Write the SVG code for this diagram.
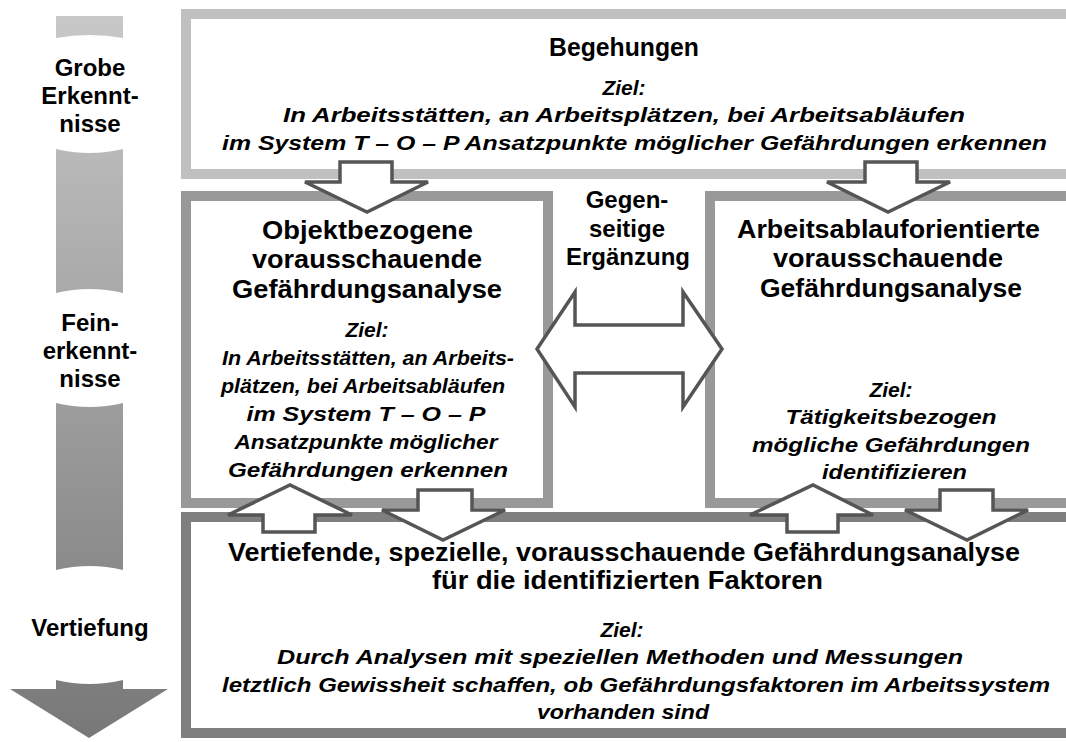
<svg xmlns="http://www.w3.org/2000/svg" width="1066" height="742" viewBox="0 0 1066 742">
  <defs>
    <linearGradient id="progress" gradientUnits="userSpaceOnUse" x1="0" y1="16" x2="0" y2="738">
      <stop offset="0" stop-color="#c8c8c8"/>
      <stop offset="1" stop-color="#787878"/>
    </linearGradient>
    <style>
      .frame { fill: #ffffff; stroke-width: 10; }
      .t { font-family: "Liberation Sans", Arial, sans-serif; font-weight: bold; fill: #000; text-anchor: middle; }
      .h { font-size: 25px; }
      .i { font-size: 21px; font-style: italic; }
      .side { font-size: 24px; }
      .block { fill: #ffffff; stroke: #555555; stroke-width: 3.5; stroke-linejoin: miter; }
    </style>
  </defs>

  <rect width="1066" height="742" fill="#ffffff"/>

  <!-- progression bar on the left -->
  <g id="progress-bar" fill="url(#progress)">
    <path d="M56 16 H123 V38 Q89.5 32 56 38 Z"/>
    <path d="M56 149 Q89.5 157 123 149 V293 Q89.5 285 56 293 Z"/>
    <path d="M56 403 Q89.5 411 123 403 V570 Q89.5 562 56 570 Z"/>
    <path d="M56 680 Q89.5 688 123 680 V689 H168 L89 738 L10 689 H56 Z"/>
  </g>
  <g id="progress-labels" class="t side">
    <text x="90" y="76">Grobe</text>
    <text x="90" y="104">Erkennt-</text>
    <text x="90" y="132">nisse</text>
    <text x="90" y="331">Fein-</text>
    <text x="90" y="359">erkennt-</text>
    <text x="90" y="387">nisse</text>
    <text x="90" y="636">Vertiefung</text>
  </g>

  <!-- inspections -->
  <g id="begehungen" class="t">
    <rect class="frame" x="186" y="14" width="900" height="160" stroke="#c0c0c0"/>
    <text class="h" x="624" y="56" textLength="150" lengthAdjust="spacingAndGlyphs">Begehungen</text>
    <text class="i" x="624" y="95">Ziel:</text>
    <text class="i" x="624" y="122" textLength="682" lengthAdjust="spacingAndGlyphs">In Arbeitsstätten, an Arbeitsplätzen, bei Arbeitsabläufen</text>
    <text class="i" x="634.5" y="150" textLength="825" lengthAdjust="spacingAndGlyphs">im System T – O – P Ansatzpunkte möglicher Gefährdungen erkennen</text>
  </g>

  <!-- object-related analysis -->
  <g id="objektbezogen" class="t">
    <rect class="frame" x="186" y="196" width="362" height="307" stroke="#999999"/>
    <text class="h" x="367.5" y="239" textLength="211" lengthAdjust="spacingAndGlyphs">Objektbezogene</text>
    <text class="h" x="367" y="268" textLength="230" lengthAdjust="spacingAndGlyphs">vorausschauende</text>
    <text class="h" x="367" y="298" textLength="270" lengthAdjust="spacingAndGlyphs">Gefährdungsanalyse</text>
    <text class="i" x="367" y="337">Ziel:</text>
    <text class="i" x="368" y="365" textLength="292" lengthAdjust="spacingAndGlyphs">In Arbeitsstätten, an Arbeits-</text>
    <text class="i" x="363" y="393" textLength="284" lengthAdjust="spacingAndGlyphs">plätzen, bei Arbeitsabläufen</text>
    <text class="i" x="366" y="421" textLength="239" lengthAdjust="spacingAndGlyphs">im System T – O – P</text>
    <text class="i" x="366" y="449" textLength="263" lengthAdjust="spacingAndGlyphs">Ansatzpunkte möglicher</text>
    <text class="i" x="368" y="477" textLength="280" lengthAdjust="spacingAndGlyphs">Gefährdungen erkennen</text>
  </g>

  <!-- workflow-oriented analysis -->
  <g id="arbeitsablauf" class="t">
    <rect class="frame" x="710" y="196" width="400" height="307" stroke="#999999"/>
    <text class="h" x="888.5" y="238" textLength="303" lengthAdjust="spacingAndGlyphs">Arbeitsablauforientierte</text>
    <text class="h" x="888" y="267" textLength="230" lengthAdjust="spacingAndGlyphs">vorausschauende</text>
    <text class="h" x="891" y="297" textLength="262" lengthAdjust="spacingAndGlyphs">Gefährdungsanalyse</text>
    <text class="i" x="891" y="397">Ziel:</text>
    <text class="i" x="891" y="424" textLength="211" lengthAdjust="spacingAndGlyphs">Tätigkeitsbezogen</text>
    <text class="i" x="891" y="452" textLength="278" lengthAdjust="spacingAndGlyphs">mögliche Gefährdungen</text>
    <text class="i" x="894.5" y="479" textLength="145" lengthAdjust="spacingAndGlyphs">identifizieren</text>
  </g>

  <!-- mutual complement label -->
  <g id="ergaenzung" class="t side">
    <text x="627" y="208">Gegen-</text>
    <text x="627" y="237">seitige</text>
    <text x="628" y="265">Ergänzung</text>
  </g>

  <!-- in-depth analysis -->
  <g id="vertiefend" class="t">
    <rect class="frame" x="186" y="517" width="900" height="216" stroke="#7f7f7f"/>
    <text class="h" x="624" y="561" textLength="792" lengthAdjust="spacingAndGlyphs">Vertiefende, spezielle, vorausschauende Gefährdungsanalyse</text>
    <text class="h" x="627.5" y="589" textLength="391" lengthAdjust="spacingAndGlyphs">für die identifizierten Faktoren</text>
    <text class="i" x="622" y="637">Ziel:</text>
    <text class="i" x="620" y="664" textLength="686" lengthAdjust="spacingAndGlyphs">Durch Analysen mit speziellen Methoden und Messungen</text>
    <text class="i" x="636" y="692" textLength="828" lengthAdjust="spacingAndGlyphs">letztlich Gewissheit schaffen, ob Gefährdungsfaktoren im Arbeitssystem</text>
    <text class="i" x="623" y="719" textLength="172" lengthAdjust="spacingAndGlyphs">vorhanden sind</text>
  </g>

  <!-- block arrows between the boxes -->
  <g id="connectors" class="block">
    <path d="M340 162 H392 V182 H428 L367 212 L305 182 H340 Z"/>
    <path d="M865 162 H917 V182 H950 L888 212 L827 182 H865 Z"/>
    <path d="M537 349 L575 292 V325 H683 V292 L722 349 L683 407 V373 H575 V407 Z"/>
    <path d="M263 532 V515 H228 L290 485 L352 515 H315 V532 Z"/>
    <path d="M418 490 H472 V510 H505 L443 540 L382 510 H418 Z"/>
    <path d="M787 532 V515 H750 L813 485 L873 515 H838 V532 Z"/>
    <path d="M940 490 H993 V510 H1028 L967 540 L905 510 H940 Z"/>
  </g>
</svg>
